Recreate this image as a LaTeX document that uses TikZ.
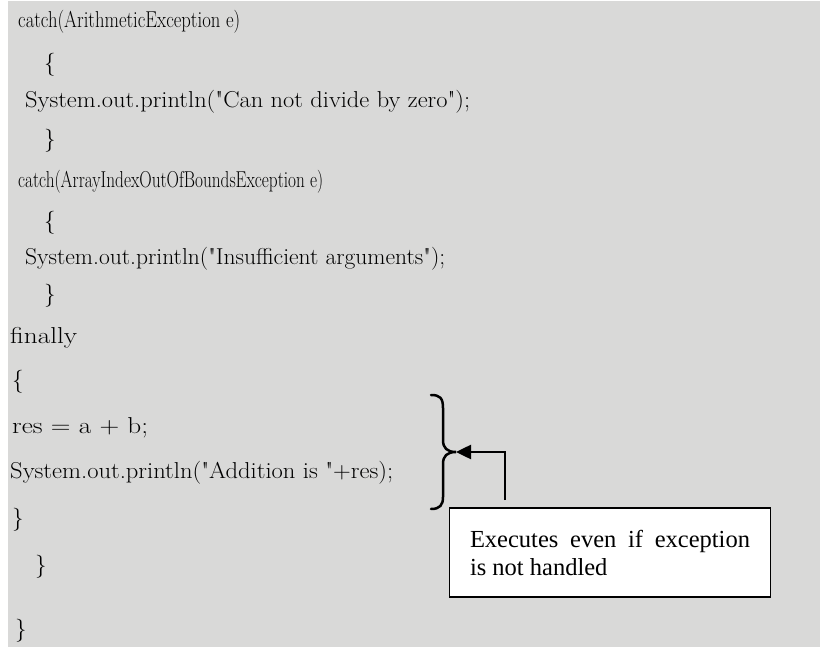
\documentclass[tikz,border=0pt]{standalone}
\usepackage{fontspec}
\usepackage{graphicx}
\usetikzlibrary{arrows.meta}
\newfontfamily\boxfont{Liberation Serif}
\definecolor{bg}{HTML}{D9D9D8}
\newcommand\codeln[2]{\resizebox{#1pt}{\height}{#2}}
\newcommand\qq{\textquotedbl}
\begin{document}
\begin{tikzpicture}[x=1pt,y=-1pt,
  code/.style={anchor=base west, inner sep=0pt, font=\fontsize{23}{27}\selectfont},
  notebox/.style={draw, fill=white, line width=1.5pt, text width=280pt, inner xsep=20.5pt,
    minimum height=89pt, align=justify, font=\boxfont\fontsize{24.5}{28}\selectfont},
  bracepath/.style={line width=2.5pt, line cap=round},
  pointer/.style={line width=2.5pt, -{Triangle[length=15pt,width=14pt]}}]
\useasboundingbox (0,0) rectangle (820,647);
\fill[white] (0,0) rectangle (820,647);
\fill[bg] (8,1) rectangle (820,647);
% code lines
\node[code] (l1) at (18,28) {\codeln{222}{catch(ArithmeticException e)}};
\node[code] (l2) at (44,71) {\{};
\node[code] (l3) at (25,108) {\codeln{445}{System.out.println(\qq Can not divide by zero\qq);}};
\node[code] (l4) at (44,147) {\}};
\node[code] (l5) at (18,188) {\codeln{305}{catch(ArrayIndexOutOfBoundsException e)}};
\node[code] (l6) at (44,229) {\{};
\node[code] (l7) at (25,265) {\codeln{420}{System.out.println(\qq Insufficient arguments\qq);}};
\node[code] (l8) at (44,302) {\}};
\node[code] (l9) at (10,343) {\codeln{67}{finally}};
\node[code] (l10) at (12,387) {\{};
\node[code] (l11) at (12,433) {\codeln{136}{res = a + b;}};
\node[code] (l12) at (10,478) {\codeln{383}{System.out.println(\qq Addition is \qq+res);}};
\node[code] (l13) at (12,525) {\}};
\node[code] (l14) at (35,572) {\}};
\node[code] (l15) at (15,636) {\}};
% brace
\draw[bracepath] (431,395) .. controls (440,395) and (443,398) .. (443,408)
  -- (443,440) .. controls (443,448) and (447,452) .. (456,452)
  .. controls (447,452) and (443,456) .. (443,464)
  -- (443,497) .. controls (443,505) and (440,509) .. (431,509);
\coordinate (tip) at (456,452);
% note
\node[notebox] (note) at (610,552.5) {Executes even if exception\linebreak is not handled};
\coordinate (start) at (505,500);
\draw[pointer] (start) |- (tip);
\end{tikzpicture}
\end{document}
